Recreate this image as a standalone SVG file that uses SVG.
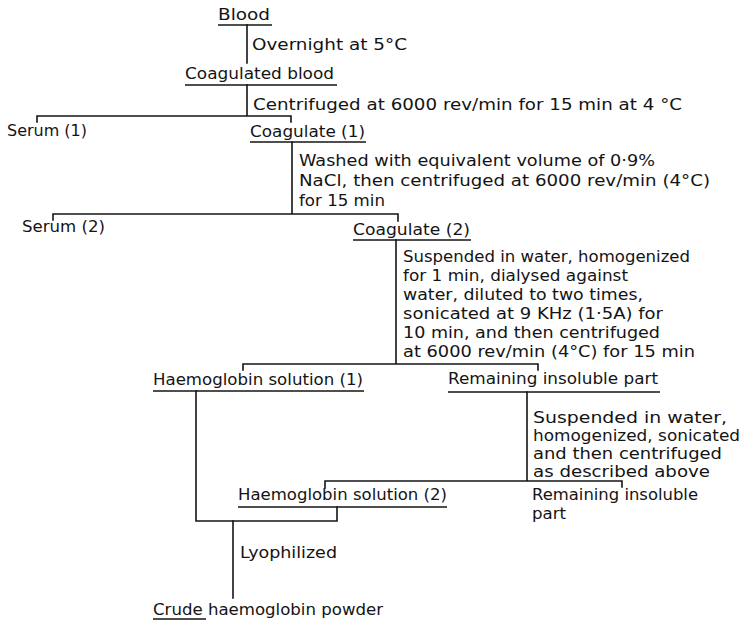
<svg xmlns="http://www.w3.org/2000/svg" width="745" height="620" viewBox="0 0 745 620">
<style>
text{font-family:"DejaVu Sans","Liberation Sans",sans-serif;font-size:15px;fill:#141414}
.ln{stroke:#141414;stroke-width:1.6;fill:none;stroke-linecap:square}
.ul{stroke:#141414;stroke-width:1.4;fill:none}
</style>
<rect width="745" height="620" fill="#ffffff"/>
<g id="connectors">
<path class="ln" d="M247 25V63"/>
<path class="ln" d="M247 85V116M37 116H291M37 116V122M291 116V122"/>
<path class="ln" d="M292 142V214M53 214H398M53 214V220M398 214V221"/>
<path class="ln" d="M396 240V364M243 364H538M243 364V370M538 364V370"/>
<path class="ln" d="M527 392V481M325 481H622M325 481V488M622 481V487"/>
<path class="ln" d="M196 391V521H337V507"/>
<path class="ln" d="M233 521V598"/>
</g>
<g id="blood"><text x="218" y="20" textLength="52" lengthAdjust="spacingAndGlyphs">Blood</text><path class="ul" d="M218 25H272"/></g>
<g id="step1"><text x="252" y="50" textLength="155" lengthAdjust="spacingAndGlyphs">Overnight at 5°C</text></g>
<g id="coagulated-blood"><text x="185" y="79" textLength="149" lengthAdjust="spacingAndGlyphs">Coagulated blood</text><path class="ul" d="M185 85H337"/></g>
<g id="step2"><text x="253" y="110" textLength="429" lengthAdjust="spacingAndGlyphs">Centrifuged at 6000 rev/min for 15 min at 4 °C</text></g>
<g id="serum1"><text x="7" y="136" textLength="80" lengthAdjust="spacingAndGlyphs">Serum (1)</text></g>
<g id="coagulate1"><text x="250" y="137" textLength="115" lengthAdjust="spacingAndGlyphs">Coagulate (1)</text><path class="ul" d="M250 142H366"/></g>
<g id="step3">
<text x="299" y="166" textLength="356" lengthAdjust="spacingAndGlyphs">Washed with equivalent volume of 0·9%</text>
<text x="299" y="186" textLength="411" lengthAdjust="spacingAndGlyphs">NaCl, then centrifuged at 6000 rev/min (4°C)</text>
<text x="299" y="206" textLength="86" lengthAdjust="spacingAndGlyphs">for 15 min</text>
</g>
<g id="serum2"><text x="22" y="232" textLength="83" lengthAdjust="spacingAndGlyphs">Serum (2)</text></g>
<g id="coagulate2"><text x="353" y="235" textLength="117" lengthAdjust="spacingAndGlyphs">Coagulate (2)</text><path class="ul" d="M353 240H471"/></g>
<g id="step4">
<text x="403" y="262" textLength="287" lengthAdjust="spacingAndGlyphs">Suspended in water, homogenized</text>
<text x="403" y="281" textLength="225" lengthAdjust="spacingAndGlyphs">for 1 min, dialysed against</text>
<text x="403" y="300" textLength="240" lengthAdjust="spacingAndGlyphs">water, diluted to two times,</text>
<text x="403" y="319" textLength="260" lengthAdjust="spacingAndGlyphs">sonicated at 9 KHz (1·5A) for</text>
<text x="403" y="338" textLength="257" lengthAdjust="spacingAndGlyphs">10 min, and then centrifuged</text>
<text x="403" y="357" textLength="292" lengthAdjust="spacingAndGlyphs">at 6000 rev/min (4°C) for 15 min</text>
</g>
<g id="haemoglobin1"><text x="153" y="385" textLength="210" lengthAdjust="spacingAndGlyphs">Haemoglobin solution (1)</text><path class="ul" d="M153 391H364"/></g>
<g id="remaining1"><text x="448" y="384" textLength="210" lengthAdjust="spacingAndGlyphs">Remaining insoluble part</text><path class="ul" d="M448 392H660"/></g>
<g id="step5">
<text x="533" y="423" textLength="194" lengthAdjust="spacingAndGlyphs">Suspended in water,</text>
<text x="533" y="441" textLength="207" lengthAdjust="spacingAndGlyphs">homogenized, sonicated</text>
<text x="533" y="459" textLength="189" lengthAdjust="spacingAndGlyphs">and then centrifuged</text>
<text x="533" y="477" textLength="177" lengthAdjust="spacingAndGlyphs">as described above</text>
</g>
<g id="haemoglobin2"><text x="238" y="500" textLength="209" lengthAdjust="spacingAndGlyphs">Haemoglobin solution (2)</text><path class="ul" d="M238 507H447"/></g>
<g id="remaining2">
<text x="532" y="500" textLength="166" lengthAdjust="spacingAndGlyphs">Remaining insoluble</text>
<text x="532" y="519" textLength="34" lengthAdjust="spacingAndGlyphs">part</text>
</g>
<g id="step6"><text x="240" y="558" textLength="97" lengthAdjust="spacingAndGlyphs">Lyophilized</text></g>
<g id="crude-powder"><text x="153" y="615" textLength="230" lengthAdjust="spacingAndGlyphs">Crude haemoglobin powder</text><path class="ul" d="M153 619H206"/></g>
</svg>
